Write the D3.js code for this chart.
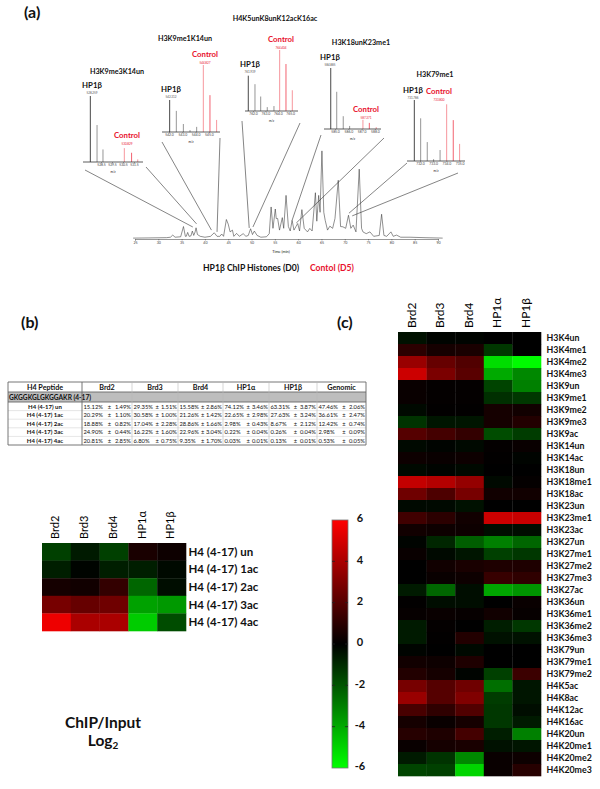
<!DOCTYPE html>
<html>
<head>
<meta charset="utf-8">
<script src="https://cdnjs.cloudflare.com/ajax/libs/d3/7.8.5/d3.min.js"></script>
<style>
  body { margin: 0; background: #fff; }
  text { font-family: Lato, "Open Sans", sans-serif; fill: #111; }
  .axis path, .axis line { stroke: #333; }
  .axis text { fill: #444; }
</style>
</head>
<body>
<script>
// panel (c) values, log2 ChIP/Input
var proteins = ["Brd2", "Brd3", "Brd4", "HP1α", "HP1β"];
var h3Marks = ["H3K4un", "H3K4me1", "H3K4me2", "H3K4me3", "H3K9un", "H3K9me1", "H3K9me2", "H3K9me3", "H3K9ac",
  "H3K14un", "H3K14ac", "H3K18un", "H3K18me1", "H3K18ac", "H3K23un", "H3K23me1", "H3K23ac", "H3K27un", "H3K27me1",
  "H3K27me2", "H3K27me3", "H3K27ac", "H3K36un", "H3K36me1", "H3K36me2", "H3K36me3", "H3K79un", "H3K79me1", "H3K79me2",
  "H4K5ac", "H4K8ac", "H4K12ac", "H4K16ac", "H4K20un", "H4K20me1", "H4K20me2", "H4K20me3"];
var h3Values = [
  [-0.4, -0.1, -0.1, 0, 0], [1, 0.5, 0.6, -1.3, 0], [3.6, 2.4, 1.9, -5.2, -5.9], [4.8, 2.9, 2.1, -4, -3.2],
  [0.2, 0.1, 0.1, -1.6, -3], [0.2, 0.1, 0.1, -1.1, -1.3], [-0.2, 0.05, 0.05, 0.5, 0.4], [-1.2, -0.5, -0.5, 0.5, 0.8],
  [2, 1.6, 1.2, -1.8, -1.4], [-0.2, -0.1, -0.2, 0.1, 0.2], [0.3, 0.2, 0.3, 0.05, -0.1], [-0.2, -0.1, -0.2, 0, 0],
  [4.6, 4.2, 3.5, -0.2, 0.1], [2.6, 1.8, 2.8, 0.4, 0.4], [-0.2, -0.2, -0.4, 0, 0], [1.5, 1, 0.4, 4.8, 4.7],
  [0.4, 0.3, 0.3, -0.3, -0.3], [-0.1, -0.9, -2.2, -3, -2.4], [0.2, -0.2, -0.5, -1.5, -1.3], [0, 0.4, 0.6, 0.7, 0.7],
  [0, 0.2, 0.3, 1.3, 1.1], [-0.6, -2.4, -0.3, -3.9, -3.5], [0.05, -0.3, -0.3, 0, 0.2], [0.15, 0.2, 0.15, 0.4, 0.15],
  [-0.6, 0.1, 0, -0.7, -1.3], [-0.6, 0.05, 0.8, -0.4, -0.4], [-0.1, 0, -0.2, 0, 0], [0.4, 0.3, 0.7, 0, 0],
  [0.8, 0.5, -0.1, -1.5, 1.4], [2.8, 2, 2.6, -2.6, -0.5], [3.6, 2, 3, -1.4, -0.5], [1.7, 1.1, 1.9, -1.3, -0.3],
  [0.5, 0.2, 0.5, -1.3, -0.6], [0.9, 0.7, 1.6, -0.7, -3], [0.2, 0.5, 0.6, -0.4, -0.5], [-0.6, -1.2, -3.2, 0.2, 0.3],
  [-1.6, -1.5, -5, 0.2, 0.9]
];

// panel (b) values
var h4Peptides = ["H4 (4-17) un", "H4 (4-17) 1ac", "H4 (4-17) 2ac", "H4 (4-17) 3ac", "H4 (4-17) 4ac"];
var h4Values = [
  [-1.5, -0.6, -1.5, 0.6, 0.3], [-0.7, -0.1, -0.7, -0.7, -0.2], [0.5, 0.4, 1.2, -2.4, -0.3],
  [2.8, 2.4, 2.6, -3.8, -3.6], [5.6, 4, 4, -4.8, -1.8]
];

// panel (b) table, percent and +/-
var tableHeader = ["H4 Peptide", "Brd2", "Brd3", "Brd4", "HP1α", "HP1β", "Genomic"];
var tableGroup = "GKGGKGLGKGGAKR (4-17)";
var tablePercent = [
  ["15.12%", "29.35%", "15.58%", "74.12%", "63.31%", "47.46%"],
  ["20.29%", "30.58%", "21.26%", "22.65%", "27.63%", "36.61%"],
  ["18.88%", "17.04%", "28.86%", "2.98%", "8.67%", "12.42%"],
  ["24.90%", "16.22%", "22.96%", "0.22%", "0.26%", "2.98%"],
  ["20.81%", "6.80%", "9.35%", "0.03%", "0.13%", "0.53%"]
];
var tableError = [
  ["1.49%", "1.51%", "2.86%", "3.46%", "3.87%", "2.06%"],
  ["1.10%", "1.00%", "1.42%", "2.98%", "3.24%", "2.47%"],
  ["0.82%", "2.28%", "1.66%", "0.43%", "2.12%", "0.74%"],
  ["0.44%", "1.60%", "3.04%", "0.04%", "0.04%", "0.09%"],
  ["2.85%", "0.75%", "1.70%", "0.01%", "0.01%", "0.05%"]
];

// panel (a) chromatogram, [minutes, relative signal]
var timeTicks = [25, 30, 35, 40, 45, 50, 55, 60, 65, 70, 75, 80, 85, 90];
var tracePoints = [[24.6, 1], [28, 1.2], [31.8, 1.5], [32.6, 2], [33.1, 4.4], [33.6, 2], [34.8, 2.5], [35.4, 14], [35.8, 3],
  [36, 3], [36.3, 7.4], [36.6, 3], [37, 3.5], [37.3, 8.9], [37.6, 4], [37.9, 8], [38.1, 12.6], [38.4, 5], [39, 3], [40, 2],
  [41.2, 3], [42, 7], [42.6, 3], [43.2, 3], [43.6, 5.6], [44, 3], [44.6, 21.9], [45, 16.7], [45.4, 8], [45.9, 10], [46.2, 3],
  [46.8, 6.3], [47.4, 3], [48.2, 6], [48.8, 3], [49.3, 4], [49.8, 11.5], [50.2, 5], [50.6, 8.9], [51.2, 4], [52, 2], [53.2, 2.5],
  [53.8, 6], [54.2, 36], [54.6, 12], [55.1, 33.7], [55.3, 23], [55.6, 23], [56, 10], [56.6, 24], [56.9, 12], [57.4, 49], [57.9, 14],
  [58.3, 9], [58.7, 21], [59.1, 10], [59.5, 13.7], [59.9, 17.4], [60.3, 9], [60.8, 33], [61.3, 12], [62, 8], [62.5, 11.9], [63, 9],
  [63.7, 52], [64, 20], [64.4, 49], [64.7, 30], [65.1, 99], [65.5, 30], [65.8, 21], [66.3, 10], [66.8, 14.4], [67.4, 12], [67.9, 23],
  [68.6, 66], [69.1, 14], [69.6, 13.7], [70.2, 12], [70.8, 26.7], [71.3, 12], [71.8, 15.6], [72.4, 8], [73.1, 78.5], [73.6, 12],
  [73.9, 8], [74.6, 6], [75.4, 8], [76.2, 3], [77.4, 4], [77.9, 27.8], [78.4, 4], [79, 3], [79.9, 8], [80.4, 3], [81.1, 4.4],
  [82, 2], [84, 2], [87, 1.5], [91, 1]];

// panel (a) MS1 insets, m/z and relative height
var spectrumTitles = ["H3K9me3K14un", "H3K9me1K14un", "H4K5unK8unK12acK16ac", "H3K18unK23me1", "H3K79me1"];
var hp1Mz = [[527.53, 528.14, 528.68], [542.05, 542.55, 543.08, 543.58, 544.08], [761.62, 762.16, 762.62, 763.15, 763.69],
  [584.68, 585.13, 585.62, 586.1], [731.57, 732.05, 732.55, 733.03, 733.52]];
var hp1Height = [[100, 56, 19], [100, 66, 25, 6, 16], [100, 76, 41, 11, 14], [100, 61, 21, 5], [100, 70, 31, 3, 18]];
var controlMz = [[530.62, 531.28, 531.84], [544.58, 545.08, 545.58], [764.15, 764.66, 765.17], [587.1, 587.58, 588.1], [734.02, 734.52, 735]];
var controlHeight = [[21, 14, 4], [100, 55, 18], [100, 77, 34], [15, 10, 3], [93, 67, 28]];
var hp1Labels = ["528.259", "542.312", "761.939", "584.885", "731.786"];
var controlLabels = ["530.829", "544.827", "764.404", "587.371", "733.800"];
var mzTicks = [[528.5, 529.5, 530.5, 531.5], [542, 543, 544, 545], [762, 763, 764, 765], [585, 586, 587, 588], [732, 733, 734, 735]];
// retention time each inset points at (left lead, right lead), with signal at the tip
var leadTimes = [[37.4, 38.2], [41.4, 42.6], [49.5, 50.3], [58.7, 59.6], [70.9, 71.6]];
var leadSignals = [[13.5, 17], [10, 8], [12.4, 13.5], [21, 18], [29, 26]];

var heatTicks = [6, 4, 2, 0, -2, -4, -6];

// layout of the insets, pixels on the page
var insetLayout = [
  { x0: 83, x1: 143, base: 162, top: 96, hpTop: 96, mzAt: [530.5, 123], pxPerMz: 11, titleX: 117, titleY: 71, hpX: 92, hpY: 85, ctlX: 127, ctlY: 135, l: [85, 170], r: [146, 167] },
  { x0: 162, x1: 220, base: 132, top: 65, hpTop: 100, mzAt: [542, 169], pxPerMz: 13.3, titleX: 185, titleY: 38, hpX: 171, hpY: 89, ctlX: 205, ctlY: 54, l: [162, 142], r: [220, 138] },
  { x0: 245, x1: 298, base: 111, top: 50, hpTop: 75.7, mzAt: [762, 253], pxPerMz: 12.4, titleX: 275, titleY: 18, hpX: 250, hpY: 64, ctlX: 281, ctlY: 39, l: [242, 121], r: [300, 123] },
  { x0: 324, x1: 381, base: 129, top: 68, hpTop: 68, mzAt: [585, 335], pxPerMz: 13.3, titleX: 361, titleY: 42, hpX: 330, hpY: 57, ctlX: 366, ctlY: 109, l: [321, 135], r: [384, 138] },
  { x0: 407, x1: 465, base: 161, top: 100, hpTop: 100, mzAt: [732, 420], pxPerMz: 13.2, titleX: 435, titleY: 74, hpX: 413, hpY: 90, ctlX: 439, ctlY: 91, l: [407, 163], r: [458, 173] }
];

var svg = d3.select("body").append("svg")
  .attr("width", 600)
  .attr("height", 789);

var heatColor = d3.scaleLinear()
  .domain([-6, 0, 6])
  .range(["#00ff00", "#000000", "#ff0000"]);

// ---- panel labels
svg.append("text").attr("x", 24).attr("y", 18).attr("font-size", 16).attr("font-weight", 700).text("(a)");
svg.append("text").attr("x", 21).attr("y", 328).attr("font-size", 16).attr("font-weight", 700).text("(b)");
svg.append("text").attr("x", 337).attr("y", 328).attr("font-size", 16).attr("font-weight", 700).text("(c)");

// ---- chromatogram
var timeScale = d3.scaleLinear().domain([25, 90]).range([135, 438]);
var signalScale = d3.scaleLinear().domain([0, 100]).range([239, 150]);

var chrom = svg.append("g");
var timeAxis = chrom.append("g")
  .attr("class", "axis")
  .attr("transform", "translate(0,239)")
  .call(d3.axisBottom(timeScale).tickValues(timeTicks).tickSize(1.5).tickPadding(0.5));
timeAxis.selectAll("text").attr("font-size", 3.6);
timeAxis.selectAll("path").attr("stroke-width", 0.5);
timeAxis.selectAll("line").attr("stroke-width", 0.4);

var traceLine = d3.line()
  .x(function(d) { return timeScale(d[0]); })
  .y(function(d) { return signalScale(d[1]); });

chrom.append("path")
  .datum(tracePoints)
  .attr("d", traceLine)
  .attr("fill", "none")
  .attr("stroke", "#333")
  .attr("stroke-width", 0.55);

chrom.append("text").attr("x", 281).attr("y", 253).attr("text-anchor", "middle").attr("font-size", 3.8).attr("fill", "#555").text("Time (min)");
chrom.append("text").attr("x", 203).attr("y", 270.5).attr("font-size", 8.6).attr("font-weight", 700).text("HP1β ChIP Histones (D0)");
chrom.append("text").attr("x", 310).attr("y", 270.5).attr("font-size", 8.6).attr("font-weight", 700).style("fill", "#e8112d").text("Contol (D5)");

// ---- spectrum insets
insetLayout.forEach(function(box, i) {
  var g = svg.append("g");
  var mz = d3.scaleLinear()
    .domain([box.mzAt[0], box.mzAt[0] + 1])
    .range([box.mzAt[1], box.mzAt[1] + box.pxPerMz]);
  var height = d3.scaleLinear().domain([0, 100]).range([box.base, box.top]);
  var hpHeight = d3.scaleLinear().domain([0, 100]).range([box.base, box.hpTop]);

  var hpSticks = d3.zip(hp1Mz[i], hp1Height[i]);
  var ctlSticks = d3.zip(controlMz[i], controlHeight[i]);

  g.selectAll(".hp").data(hpSticks).enter().append("line")
    .attr("x1", function(d) { return mz(d[0]); })
    .attr("x2", function(d) { return mz(d[0]); })
    .attr("y1", box.base)
    .attr("y2", function(d) { return hpHeight(d[1]); })
    .attr("stroke", function(d, j) { return j === 0 ? "#333" : "#8a8a8a"; })
    .attr("stroke-width", 0.9);

  g.selectAll(".ctl").data(ctlSticks).enter().append("line")
    .attr("x1", function(d) { return mz(d[0]); })
    .attr("x2", function(d) { return mz(d[0]); })
    .attr("y1", box.base)
    .attr("y2", function(d) { return height(d[1]); })
    .attr("stroke", function(d, j) { return j === 1 ? "#f05060" : "#f58a92"; })
    .attr("stroke-width", 0.9);

  var axis = g.append("g")
    .attr("class", "axis")
    .attr("transform", "translate(0," + box.base + ")")
    .call(d3.axisBottom(mz).tickValues(mzTicks[i]).tickFormat(d3.format(".1f")).tickSize(1).tickPadding(0.6));
  axis.select("path").attr("d", "M" + box.x0 + ",0H" + box.x1).attr("stroke", "#222").attr("stroke-width", 0.8);
  axis.selectAll("line").attr("stroke-width", 0.4);
  axis.selectAll("text").attr("font-size", 3.4);

  g.append("text").attr("x", (box.x0 + box.x1) / 2).attr("y", box.base + 11).attr("text-anchor", "middle").attr("font-size", 3).attr("fill", "#555").text("m/z");
  g.append("text").attr("x", box.titleX).attr("y", box.titleY + 3).attr("text-anchor", "middle").attr("font-size", 7.2).attr("font-weight", 700).text(spectrumTitles[i]);
  g.append("text").attr("x", box.hpX).attr("y", box.hpY + 3).attr("text-anchor", "middle").attr("font-size", 7.8).attr("font-weight", 700).text("HP1β");
  g.append("text").attr("x", box.hpX).attr("y", box.hpY + 8.5).attr("text-anchor", "middle").attr("font-size", 3).style("fill", "#555").text(hp1Labels[i]);
  g.append("text").attr("x", box.ctlX).attr("y", box.ctlY + 3).attr("text-anchor", "middle").attr("font-size", 7.8).attr("font-weight", 700).style("fill", "#e8112d").text("Control");
  g.append("text").attr("x", box.ctlX).attr("y", box.ctlY + 9.5).attr("text-anchor", "middle").attr("font-size", 3).style("fill", "#e8112d").text(controlLabels[i]);

  // leads from the inset down to the peak
  [box.l, box.r].forEach(function(start, side) {
    g.append("line")
      .attr("x1", start[0])
      .attr("y1", start[1])
      .attr("x2", timeScale(leadTimes[i][side]))
      .attr("y2", signalScale(leadSignals[i][side]))
      .attr("stroke", "#333")
      .attr("stroke-width", 0.6);
  });
});

// ---- table in panel (b)
var colEdges = [8, 82, 132, 178, 223, 269, 317, 366];
var rowEdges = [382, 392, 402, 410.6, 419.2, 427.8, 436.4, 445];
var table = svg.append("g");

table.append("rect").attr("x", 8).attr("y", rowEdges[1]).attr("width", 358).attr("height", rowEdges[2] - rowEdges[1]).attr("fill", "#bdbdbd");

tableHeader.forEach(function(name, c) {
  table.append("text")
    .attr("x", (colEdges[c] + colEdges[c + 1]) / 2)
    .attr("y", 389.7)
    .attr("text-anchor", "middle")
    .attr("font-size", 7.2)
    .attr("font-weight", 700)
    .text(name);
});

table.append("text").attr("x", 9).attr("y", 399.6).attr("font-size", 6.6).attr("font-weight", 700).text(tableGroup);

h4Peptides.forEach(function(name, r) {
  var y = rowEdges[r + 2] + 6.5;
  table.append("text")
    .attr("x", 45).attr("y", y)
    .attr("text-anchor", "middle").attr("font-size", 6).attr("font-weight", 700)
    .text(name);
  tablePercent[r].forEach(function(p, c) {
    var left = colEdges[c + 1], right = colEdges[c + 2];
    table.append("text").attr("x", left + 1.5).attr("y", y).attr("font-size", 5.8).text(p);
    table.append("text").attr("x", left + (right - left) * 0.55).attr("y", y).attr("text-anchor", "middle").attr("font-size", 5.8).text("±");
    table.append("text").attr("x", right - 1).attr("y", y).attr("text-anchor", "end").attr("font-size", 5.8).text(tableError[r][c]);
  });
});

table.selectAll(".hline").data(rowEdges).enter().append("line")
  .attr("x1", 8).attr("x2", 366)
  .attr("y1", function(d) { return d; }).attr("y2", function(d) { return d; })
  .attr("stroke", function(d, i) { return i < 3 || i === 7 ? "#666" : "#ccc"; })
  .attr("stroke-width", function(d, i) { return i < 3 || i === 7 ? 0.9 : 0.5; });

table.selectAll(".vline").data(colEdges).enter().append("line")
  .attr("y1", 382).attr("y2", 445)
  .attr("x1", function(d) { return d; }).attr("x2", function(d) { return d; })
  .attr("stroke", function(d, i) { return i === 0 || i === 1 || i === 7 ? "#666" : "#bbb"; })
  .attr("stroke-width", function(d, i) { return i === 0 || i === 1 || i === 7 ? 0.9 : 0.6; });

// ---- heat maps
function drawHeatmap(values, rowNames, x0, x1, y0, y1, colFont, rowFont, labelGap) {
  var xScale = d3.scaleBand().domain(proteins).range([x0, x1]);
  var yScale = d3.scaleBand().domain(rowNames).range([y0, y1]);
  var g = svg.append("g");

  values.forEach(function(row, r) {
    g.selectAll(null).data(row).enter().append("rect")
      .attr("x", function(d, c) { return xScale(proteins[c]); })
      .attr("y", yScale(rowNames[r]))
      .attr("width", xScale.bandwidth() + 0.3)
      .attr("height", yScale.bandwidth() + 0.3)
      .attr("fill", function(d) { return heatColor(d); });
  });

  g.selectAll(".col").data(proteins).enter().append("text")
    .attr("transform", function(d) { return "translate(" + (xScale(d) + xScale.bandwidth() / 2 - 1) + "," + (y0 - 4) + ")rotate(-90)"; })
    .attr("dy", "0.35em")
    .attr("font-size", colFont)
    .style("fill", "#000")
    .text(function(d) { return d; });

  g.selectAll(".row").data(rowNames).enter().append("text")
    .attr("x", x1 + labelGap)
    .attr("y", function(d) { return yScale(d) + yScale.bandwidth() / 2; })
    .attr("dy", "0.35em")
    .attr("font-size", rowFont)
    .attr("font-weight", 700)
    .text(function(d) { return d; });
}

drawHeatmap(h4Values, h4Peptides, 42, 186, 543, 631, 11, 11.5, 2.5);
drawHeatmap(h3Values, h3Marks, 398, 541, 332, 776, 12, 8.8, 5.5);

// ---- colour bar
var barScale = d3.scaleLinear().domain([6, -6]).range([520, 768]);
var gradient = svg.append("defs").append("linearGradient")
  .attr("id", "barFill")
  .attr("x1", 0).attr("y1", 0).attr("x2", 0).attr("y2", 1);
gradient.selectAll("stop").data([6, 0, -6]).enter().append("stop")
  .attr("offset", function(d) { return (barScale(d) - 520) / 248; })
  .attr("stop-color", function(d) { return heatColor(d); });

var bar = svg.append("g");
bar.append("rect")
  .attr("x", 332).attr("y", 520).attr("width", 16).attr("height", 248)
  .attr("fill", "url(#barFill)")
  .attr("stroke", "#777").attr("stroke-width", 0.8);

bar.selectAll(".mark").data(heatTicks.slice(1, -1)).enter().append("path")
  .attr("d", function(d) { var y = barScale(d); return "M332," + y + "h3M345," + y + "h3"; })
  .attr("stroke", "#222").attr("stroke-width", 0.8);

bar.selectAll(".tick-label").data(heatTicks).enter().append("text")
  .attr("x", 360)
  .attr("y", function(d) { return barScale(d) - 1.5; })
  .attr("dy", "0.35em")
  .attr("text-anchor", "middle")
  .attr("font-size", 11)
  .attr("font-weight", 700)
  .text(function(d) { return d; });

// ---- panel (b) caption
svg.append("text").attr("x", 103).attr("y", 728).attr("text-anchor", "middle").attr("font-size", 15.5).attr("font-weight", 700).text("ChIP/Input");
var logLabel = svg.append("text").attr("x", 103).attr("y", 746).attr("text-anchor", "middle").attr("font-size", 15.5).attr("font-weight", 700);
logLabel.append("tspan").text("Log");
logLabel.append("tspan").attr("font-size", 10).attr("dy", 3).text("2");
</script>
</body>
</html>
